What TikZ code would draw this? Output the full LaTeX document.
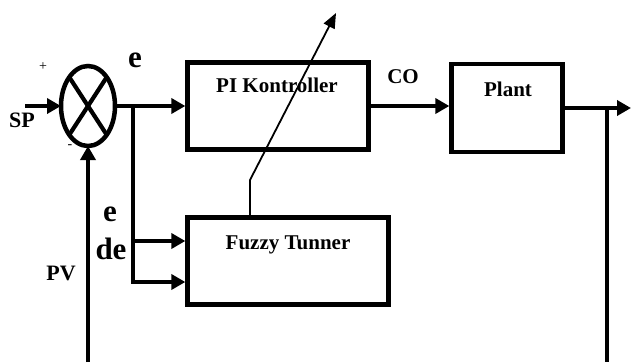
\documentclass[tikz,border=0pt]{standalone}
\usepackage{fontspec}
\setmainfont{Liberation Serif}
\usetikzlibrary{arrows.meta,shapes.geometric}

\begin{document}
\begin{tikzpicture}[x=1pt,y=-1pt]
	\useasboundingbox (0,0) rectangle (631,362);

	\tikzstyle{edge} = [draw,line width=4.2pt,-{Triangle[length=14pt,width=15pt]}]
	\tikzstyle{wire} = [draw,line width=4.2pt]
	\tikzstyle{tune} = [draw,line width=1.8pt,-{Triangle[length=15pt,width=12pt]}]
	\tikzset{block/.style = {shape=rectangle,draw,line width=4.3pt,inner sep=0pt}}
	\tikzset{lbl/.style = {font=\fontsize{21}{23}\selectfont\bfseries,inner sep=0pt,anchor=base}}
	\tikzset{big/.style = {lbl,font=\fontsize{31}{33}\selectfont\bfseries}}

	% summing point
	\node[shape=ellipse,draw,line width=4.5pt,outer sep=0pt,minimum width=54pt,minimum height=80pt,inner sep=0pt] (sum) at (88,106) {};
	\draw[wire] (sum.57) -- (sum.237);
	\draw[wire] (sum.123) -- (sum.-57);

	% blocks
	\node[block,minimum width=181pt,minimum height=87pt] (pi) at (278,106) {};
	\node[block,minimum width=111pt,minimum height=88pt] (plant) at (507,108) {};
	\node[block,minimum width=201pt,minimum height=87pt] (fuzzy) at (288,261) {};
	\node[lbl] (pitext) at (277,92) {PI Kontroller};
	\node[lbl] (planttext) at (508,96) {Plant};
	\node[lbl] (fuzzytext) at (288,249) {Fuzzy Tunner};

	% signals
	\coordinate (sp) at (25,106);
	\coordinate (pv) at (88,362);
	\coordinate (split) at (133,106);
	\coordinate (tap) at (607,108);
	\coordinate (out) at (631,108);
	\coordinate (fb) at (607,362);
	\coordinate (fin1) at ([yshift=20pt]fuzzy.west);
	\coordinate (fin2) at ([yshift=-21pt]fuzzy.west);
	\coordinate (bend) at (250,180);
	\coordinate (tip) at (336,13);

	\draw[edge] (sp) -- (sum.west);
	\draw[edge] (pv) -- (sum.south);
	\draw[edge] (sum.east) -- (pi.west);
	\draw[edge] (split) |- (fin2);
	\draw[edge] (split |- fin1) -- (fin1);
	\draw[edge] (pi.east) -- (plant.west |- pi.east);
	\draw[edge] (plant.east |- out) -- (out);
	\draw[wire] (tap) -- (fb);
	\draw[tune] (bend |- fuzzy.north) -- (bend) -- (tip);

	% labels
	\node[lbl,font=\fontsize{22}{24}\selectfont\bfseries] (splabel) at (22,127) {SP};
	\node[lbl,font=\fontsize{22}{24}\selectfont\bfseries] (pvlabel) at (61,280) {PV};
	\node[lbl,font=\fontsize{14}{16}\selectfont] (plus) at (43,70) {+};
	\node[lbl,font=\fontsize{14}{16}\selectfont] (minus) at (70,148) {-};
	\node[big] (etop) at (135,67) {e};
	\node[lbl] (colabel) at (403,83) {CO};
	\node[big] (elow) at (110,221) {e};
	\node[big] (delabel) at (111,259) {de};
\end{tikzpicture}
\end{document}
